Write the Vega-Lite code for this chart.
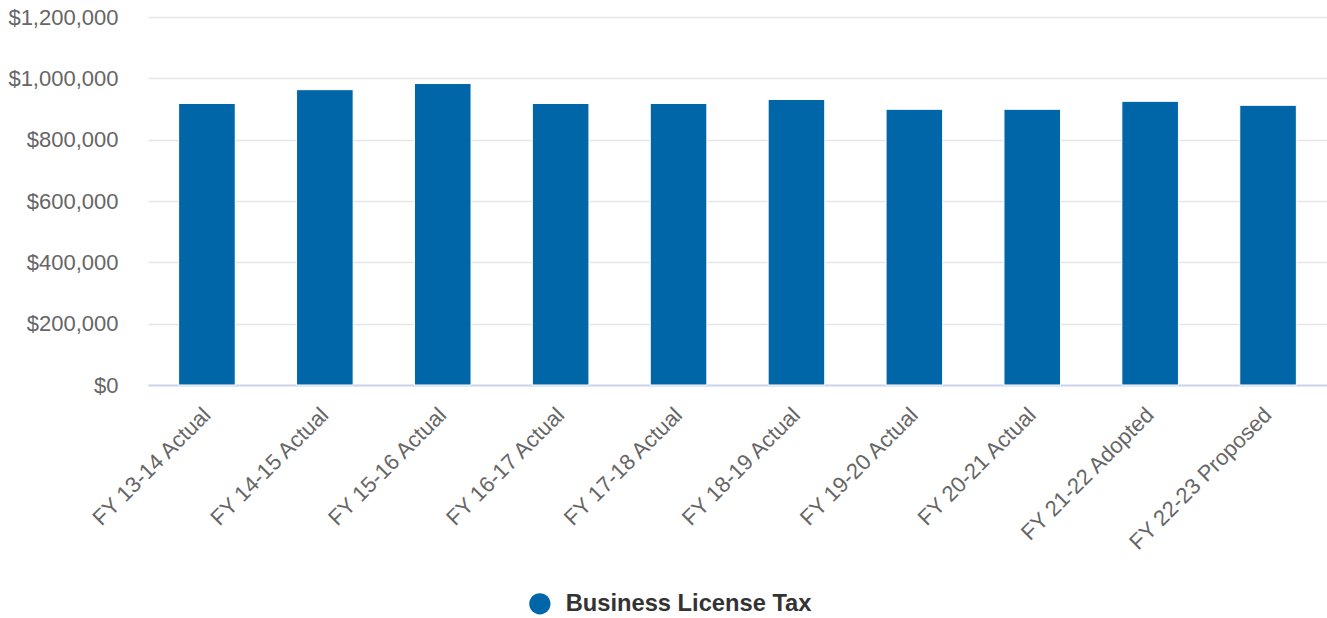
{
  "$schema": "https://vega.github.io/schema/vega-lite/v6.json",
  "autosize": {"type": "none"},
  "width": 1179,
  "height": 368,
  "padding": {"left": 148, "top": 17, "right": 0, "bottom": 233},
  "background": "#ffffff",
  "data": {
    "values": [
      {"year": "FY 13-14 Actual", "series": "Business License Tax", "amount": 918000},
      {"year": "FY 14-15 Actual", "series": "Business License Tax", "amount": 963000},
      {"year": "FY 15-16 Actual", "series": "Business License Tax", "amount": 983000},
      {"year": "FY 16-17 Actual", "series": "Business License Tax", "amount": 918000},
      {"year": "FY 17-18 Actual", "series": "Business License Tax", "amount": 918000},
      {"year": "FY 18-19 Actual", "series": "Business License Tax", "amount": 931000},
      {"year": "FY 19-20 Actual", "series": "Business License Tax", "amount": 899000},
      {"year": "FY 20-21 Actual", "series": "Business License Tax", "amount": 899000},
      {"year": "FY 21-22 Adopted", "series": "Business License Tax", "amount": 925000},
      {"year": "FY 22-23 Proposed", "series": "Business License Tax", "amount": 912000}
    ]
  },
  "config": {
    "view": {"stroke": null},
    "font": "Liberation Sans"
  },
  "mark": {"type": "bar", "stroke": "#ffffff", "strokeWidth": 1},
  "encoding": {
    "x": {
      "field": "year",
      "type": "nominal",
      "sort": null,
      "scale": {"paddingInner": 0.52, "paddingOuter": 0.26},
      "axis": {
        "title": null,
        "labelAngle": -45,
        "labelAlign": "right",
        "labelBaseline": "middle",
        "labelFontSize": 22,
        "labelColor": "#666666",
        "labelPadding": 26,
        "labelLimit": 300,
        "ticks": false,
        "domainColor": "#ccd6eb",
        "domainWidth": 2,
        "grid": false
      }
    },
    "y": {
      "field": "amount",
      "type": "quantitative",
      "scale": {"domain": [0, 1200000], "nice": false},
      "axis": {
        "title": null,
        "values": [0, 200000, 400000, 600000, 800000, 1000000, 1200000],
        "format": "$,.0f",
        "labelFontSize": 22,
        "labelColor": "#666666",
        "labelPadding": 30,
        "ticks": false,
        "domain": false,
        "gridColor": "#e6e6e6",
        "gridWidth": 1.5
      }
    },
    "color": {
      "field": "series",
      "type": "nominal",
      "scale": {"range": ["#0066a8"]},
      "legend": {
        "title": null,
        "orient": "none",
        "legendX": 380,
        "legendY": 575,
        "symbolType": "circle",
        "symbolSize": 452,
        "symbolStrokeWidth": 0,
        "labelFontSize": 23.7,
        "labelFontWeight": "bold",
        "labelColor": "#333333",
        "labelOffset": 14,
        "labelLimit": 400
      }
    }
  }
}
